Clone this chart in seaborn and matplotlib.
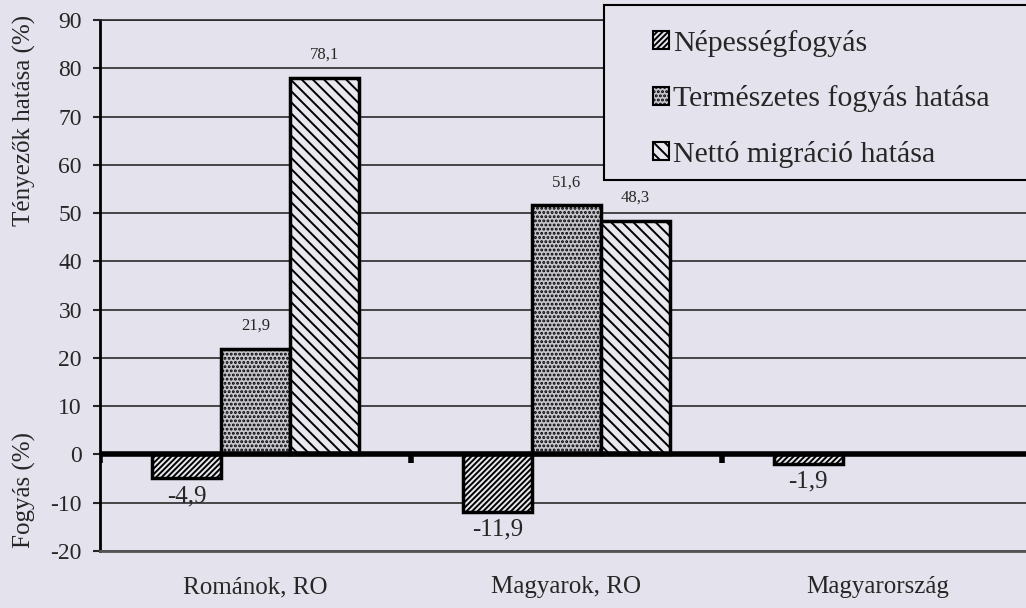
import pandas as pd
import seaborn as sns
import matplotlib.pyplot as plt
from matplotlib.patches import Patch, Rectangle

# data
categories = ["Románok, RO", "Magyarok, RO", "Magyarország"]
series = ["Népességfogyás", "Természetes fogyás hatása", "Nettó migráció hatása"]
nepesseg = [-4.9, -11.9, -1.9]
termeszetes = [21.9, 51.6]
netto = [78.1, 48.3]

rows = []
for cat, v in zip(categories, nepesseg):
    rows.append((cat, series[0], v))
for cat, v in zip(categories, termeszetes):
    rows.append((cat, series[1], v))
for cat, v in zip(categories, netto):
    rows.append((cat, series[2], v))
df = pd.DataFrame(rows, columns=["cat", "series", "value"])

bg = "#e4e2ec"
faces = ["#e8e7ef", "#c6c5ce", "#e8e7ef"]
hatches = ["//////", "....", "\\\\\\"]

sns.set_style("white")
plt.rcParams["font.family"] = ["Liberation Serif", "DejaVu Serif"]
plt.rcParams["hatch.linewidth"] = 1.4
plt.rcParams["axes.unicode_minus"] = False

fig = plt.figure(figsize=(10.26, 6.08), dpi=100, facecolor=bg)
ax = fig.add_axes([0.0975, 0.0938, 0.909, 0.873])
ax.set_facecolor(bg)

sns.barplot(data=df, x="cat", y="value", hue="series", hue_order=series,
            order=categories, palette=faces, width=0.666, dodge=True,
            edgecolor="black", linewidth=2.5, legend=False, ax=ax, zorder=3)

for cont, h in zip(ax.containers, hatches):
    for bar in cont:
        bar.set_hatch(h)
        bar.set_edgecolor("black")

# value labels
for cont in ax.containers:
    for bar in cont:
        v = bar.get_height()
        if pd.isna(v):
            continue
        x = bar.get_x() + bar.get_width() / 2
        txt = f"{v:.1f}".replace(".", ",")
        if v >= 0:
            ax.annotate(txt, (x, v), xytext=(0, 11), textcoords="offset points",
                        ha="center", va="bottom", fontsize=12)
        else:
            ax.annotate(txt, (x, v), xytext=(0, -5), textcoords="offset points",
                        ha="center", va="top", fontsize=18)

ax.set_ylim(-20, 90)
ax.set_yticks(range(-20, 91, 10))
ax.set_xlim(-0.5, 2.5)
ax.yaxis.grid(True, color="#2a2a2a", linewidth=1.2, zorder=0)
ax.set_axisbelow(True)
ax.axhline(0, color="black", linewidth=4, zorder=4)
ax.vlines([-0.5, 0.5, 1.5], -1.8, 0, color="black", linewidth=4, zorder=4)

ax.spines["right"].set_visible(False)
ax.spines["left"].set_linewidth(2)
ax.spines["left"].set_color("black")
ax.spines["top"].set_linewidth(1.2)
ax.spines["top"].set_color("#2a2a2a")
ax.spines["bottom"].set_linewidth(2)
ax.spines["bottom"].set_color("#555555")

ax.tick_params(axis="y", labelsize=17, length=5, width=1.5, pad=8, left=True)
ax.tick_params(axis="x", labelsize=18, length=0, pad=18)
ax.set_xlabel("")
ax.set_ylabel("")

fig.text(24 / 1026, 1 - 226 / 608, "Tényezők hatása (%)", rotation=90,
         rotation_mode="anchor", ha="left", va="center", fontsize=18)
fig.text(24 / 1026, 1 - 548 / 608, "Fogyás (%)", rotation=90,
         rotation_mode="anchor", ha="left", va="center", fontsize=18)

# legend
fig.patches.append(Rectangle((604 / 1026, 1 - 180 / 608), 0.5, 175 / 608,
                             transform=fig.transFigure, facecolor=bg,
                             edgecolor="black", linewidth=1.5, zorder=5))
handles = [Patch(facecolor=f, edgecolor="black", hatch=h, linewidth=1.5)
           for f, h in zip(faces, hatches)]
leg = fig.legend(handles, series, loc="upper left",
                 bbox_to_anchor=(638 / 1026, 1 - 15 / 608), frameon=False,
                 fontsize=21.5, handlelength=0.55, handleheight=0.55,
                 handletextpad=0.12, labelspacing=0.95, borderpad=0)
leg.set_zorder(6)

fig.savefig("out.png", dpi=100, facecolor=bg)
